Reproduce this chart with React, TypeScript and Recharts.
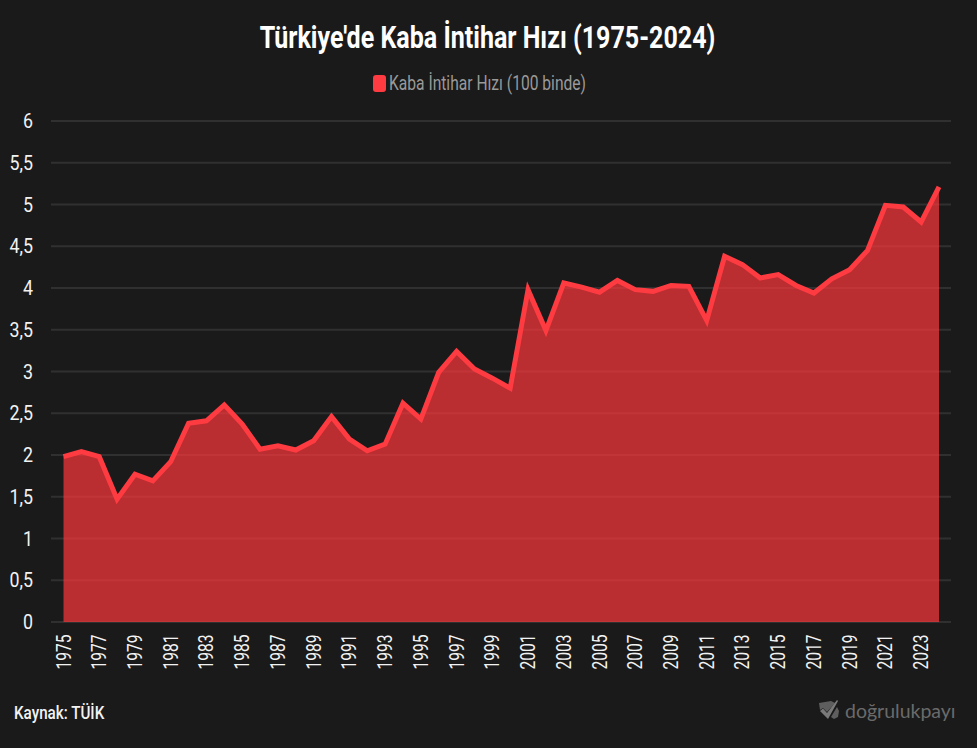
import { AreaChart, Area, XAxis, YAxis, CartesianGrid, Legend } from 'recharts';

const YEARS = [
  1975, 1976, 1977, 1978, 1979, 1980, 1981, 1982, 1983, 1984,
  1985, 1986, 1987, 1988, 1989, 1990, 1991, 1992, 1993, 1994,
  1995, 1996, 1997, 1998, 1999, 2000, 2001, 2002, 2003, 2004,
  2005, 2006, 2007, 2008, 2009, 2010, 2011, 2012, 2013, 2014,
  2015, 2016, 2017, 2018, 2019, 2020, 2021, 2022, 2023, 2024,
];
const RATES = [
  1.98, 2.04, 1.98, 1.47, 1.77, 1.69, 1.92, 2.38, 2.41, 2.60,
  2.37, 2.07, 2.11, 2.06, 2.17, 2.46, 2.19, 2.05, 2.13, 2.62,
  2.43, 2.99, 3.24, 3.03, 2.92, 2.80, 3.98, 3.49, 4.06, 4.01,
  3.95, 4.09, 3.98, 3.96, 4.03, 4.02, 3.61, 4.38, 4.28, 4.12,
  4.16, 4.03, 3.94, 4.11, 4.22, 4.45, 4.99, 4.97, 4.79, 5.21,
];
const Y_TICKS = [0, 0.5, 1, 1.5, 2, 2.5, 3, 3.5, 4, 4.5, 5, 5.5, 6];
const SERIES_NAME = 'Kaba İntihar Hızı (100 binde)';

const data = YEARS.map((year, i) => ({ year, rate: RATES[i] }));

const BG = '#1a1a1a';
const RED = '#ff3b42';
const FONT = 'Roboto, sans-serif';

function XTick({ x, y, payload }: any) {
  return (
    <text
      transform={`translate(${x + 7},${y + 4.5}) rotate(-90) scale(0.78,1)`}
      textAnchor="end"
      fontFamily={FONT}
      fontSize={20}
      fill="#f2f2f2"
    >
      {payload.value}
    </text>
  );
}

function YTick({ x, y, payload }: any) {
  return (
    <text
      transform={`translate(${x - 10},${y + 7}) scale(0.85,1)`}
      textAnchor="end"
      fontFamily={FONT}
      fontSize={21}
      fill="#f2f2f2"
    >
      {String(payload.value).replace('.', ',')}
    </text>
  );
}

function LegendRow() {
  return (
    <div style={{ display: 'flex', justifyContent: 'center', alignItems: 'center', height: 24, paddingLeft: 7 }}>
      <span style={{ width: 13, height: 17, borderRadius: 3, background: RED, marginRight: 3 }} />
      <span
        style={{
          color: '#999',
          fontFamily: FONT,
          fontSize: 19.5,
          display: 'inline-block',
          width: 197,
          whiteSpace: 'nowrap',
          transform: 'scaleX(0.8)',
          transformOrigin: 'left center',
        }}
      >
        {SERIES_NAME}
      </span>
    </div>
  );
}

export default function App() {
  return (
    <div style={{ position: 'relative', width: 977, height: 748, background: BG, overflow: 'hidden' }}>
      <style>{`html,body{margin:0;background:${BG}}`}</style>
      <div
        style={{
          position: 'absolute',
          top: 19,
          left: 0,
          width: 975,
          textAlign: 'center',
          color: '#fff',
          fontFamily: FONT,
          fontWeight: 700,
          fontSize: 31.3,
          transform: 'scaleX(0.8)',
          whiteSpace: 'nowrap',
        }}
      >
        Türkiye'de Kaba İntihar Hızı (1975-2024)
      </div>
      <AreaChart
        width={977}
        height={748}
        data={data}
        margin={{ top: 97, right: 26, bottom: 66, left: 0 }}
      >
        <Legend verticalAlign="top" height={24} wrapperStyle={{ top: 71 }} content={<LegendRow />} />
        <CartesianGrid stroke="#303030" strokeWidth={2} vertical={false} />
        <XAxis
          dataKey="year"
          height={60}
          interval={1}
          padding={{ left: 12.5, right: 12 }}
          axisLine={false}
          tickLine={false}
          tick={<XTick />}
        />
        <YAxis
          width={51}
          domain={[0, 6]}
          ticks={Y_TICKS}
          axisLine={false}
          tickLine={false}
          tick={<YTick />}
        />
        <Area
          type="linear"
          dataKey="rate"
          name={SERIES_NAME}
          stroke={RED}
          strokeWidth={5}
          strokeLinejoin="miter"
          fill="#ff363b"
          fillOpacity={0.7}
          dot={false}
          activeDot={false}
          isAnimationActive={false}
        />
      </AreaChart>
      <div
        style={{
          position: 'absolute',
          left: 14,
          top: 701,
          color: '#f2f2f2',
          fontFamily: FONT,
          fontWeight: 500,
          fontSize: 19,
          whiteSpace: 'nowrap',
          transform: 'scaleX(0.8)',
          transformOrigin: 'left center',
        }}
      >
        Kaynak: TÜİK
      </div>
      <div style={{ position: 'absolute', left: 818, top: 698, display: 'flex', alignItems: 'center' }}>
        <svg width={22} height={24} viewBox="0 0 22 24">
          <path d="M1 5 L13 3 L17 5 L9 14 L5 10 L2 12 Z" fill="#5e5e5e" />
          <path d="M2 13 L5 10.5 L9 15 L19 2 L20 3 L10 21 Z" fill="#7a7a7a" />
          <path d="M13 19 L19 9 L21 13 L20 19 L16 21 Z" fill="#5e5e5e" />
        </svg>
        <span style={{ marginLeft: 5, color: '#6a6a6a', fontFamily: 'Lato, sans-serif', fontSize: 19.5, whiteSpace: 'nowrap' }}>
          doğrulukpayı
        </span>
      </div>
    </div>
  );
}
